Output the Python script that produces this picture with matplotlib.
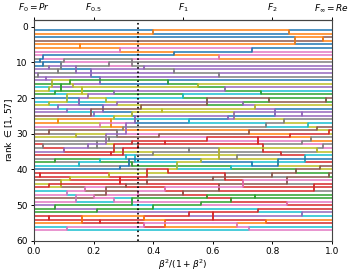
import matplotlib
matplotlib.use("Agg")
import matplotlib.pyplot as plt

# colour (tab10) of each series, listed by its rank at beta^2/(1+beta^2)=0
start_colors = [
    "tab:blue", "tab:orange", "tab:blue", "tab:brown", "tab:orange", "tab:orange", "tab:pink", "tab:pink",
    "tab:gray", "tab:blue", "tab:blue", "tab:purple", "tab:purple", "tab:gray", "tab:purple", "tab:green",
    "tab:cyan", "tab:olive", "tab:green", "tab:blue", "tab:cyan", "tab:olive", "tab:purple", "tab:purple",
    "tab:brown", "tab:olive", "tab:orange", "tab:pink", "tab:gray", "tab:brown", "tab:olive", "tab:gray",
    "tab:red", "tab:gray", "tab:purple", "tab:red", "tab:gray", "tab:green", "tab:cyan", "tab:blue",
    "tab:red", "tab:red", "tab:brown", "tab:olive", "tab:red", "tab:cyan", "tab:pink", "tab:brown",
    "tab:pink", "tab:purple", "tab:green", "tab:green", "tab:red", "tab:red", "tab:orange", "tab:cyan",
    "tab:pink",
]

# rank exchanges: at swap_x the series at rank swap_a and swap_b trade places
swap_x = [0.40, 0.855, 0.875, 0.97, 0.155, 0.29, 0.47, 0.73, 0.62,
          0.02, 0.03, 0.05, 0.08, 0.015, 0.10, 0.25, 0.37, 0.47, 0.62, 0.04, 0.12, 0.22, 0.13, 0.05, 0.07,
          0.16, 0.18, 0.24, 0.27, 0.45, 0.55, 0.64, 0.76, 0.28, 0.36, 0.70, 0.74, 0.79, 0.98, 0.08, 0.11,
          0.05, 0.20, 0.27, 0.33, 0.65, 0.08, 0.22, 0.30, 0.52, 0.78, 0.95,
          0.05, 0.14, 0.25, 0.28, 0.33, 0.42, 0.58, 0.72, 0.86, 0.90, 0.93, 0.03, 0.10, 0.18, 0.26, 0.30,
          0.31, 0.35, 0.40, 0.52, 0.68, 0.77, 0.83, 0.95, 0.07, 0.15, 0.22, 0.29, 0.33, 0.45, 0.56, 0.66,
          0.73, 0.88, 0.96, 0.02, 0.12, 0.25, 0.38, 0.60, 0.80, 0.05, 0.17, 0.31, 0.50, 0.62,
          0.11, 0.20, 0.27, 0.35, 0.74, 0.56, 0.07, 0.21, 0.40, 0.52, 0.75, 0.05, 0.22, 0.37, 0.78, 0.68,
          0.11, 0.37, 0.72,
          0.03, 0.09, 0.14, 0.19, 0.33, 0.06, 0.09, 0.11, 0.15, 0.19, 0.23, 0.26, 0.31, 0.34, 0.43, 0.50,
          0.58, 0.67, 0.81, 0.84, 0.90, 0.92, 0.99, 0.21, 0.24, 0.27, 0.32, 0.34, 0.38, 0.44, 0.48, 0.62,
          0.64, 0.70, 0.75, 0.82, 0.85, 0.91, 0.94, 0.97, 0.99, 0.09, 0.14, 0.24, 0.29, 0.33, 0.44, 0.58,
          0.66, 0.85, 0.90, 0.16, 0.44, 0.60]
swap_a = [1, 1, 3, 3, 5, 6, 7, 6, 8,
          9, 10, 11, 12, 13, 9, 10, 11, 12, 13, 14, 15, 14, 16, 17, 18,
          17, 19, 20, 18, 15, 16, 17, 18, 21, 22, 21, 22, 20, 20, 22, 23,
          21, 24, 25, 24, 25, 26, 27, 28, 26, 27, 28,
          29, 30, 31, 29, 32, 30, 31, 29, 30, 32, 31, 33, 34, 33, 35, 34,
          36, 33, 35, 34, 36, 33, 35, 34, 37, 38, 37, 39, 38, 40, 37, 39,
          38, 40, 39, 41, 42, 41, 43, 42, 41, 44, 45, 44, 46, 44,
          46, 47, 48, 46, 47, 49, 50, 51, 50, 52, 51, 53, 54, 53, 54, 55,
          56, 55, 56,
          8, 10, 11, 12, 9, 15, 16, 19, 20, 23, 22, 26, 27, 25, 23, 19,
          20, 24, 23, 26, 24, 27, 29, 32, 30, 33, 37, 36, 40, 32, 38, 34,
          41, 43, 31, 37, 42, 36, 44, 33, 41, 43, 47, 45, 42, 48, 45, 47,
          48, 49, 52, 53, 54, 52]
swap_b = [2, 2, 5, 4, 6, 7, 8, 7, 9,
          10, 11, 12, 13, 14, 10, 11, 12, 13, 14, 15, 16, 16, 17, 18, 19,
          19, 20, 21, 19, 16, 17, 18, 19, 22, 23, 22, 23, 21, 21, 23, 24,
          22, 25, 26, 25, 26, 27, 28, 29, 27, 28, 29,
          30, 31, 32, 31, 33, 31, 32, 30, 31, 33, 32, 34, 35, 34, 36, 36,
          37, 34, 36, 35, 37, 35, 36, 35, 38, 39, 38, 40, 39, 41, 38, 40,
          39, 41, 40, 42, 43, 42, 44, 43, 42, 45, 46, 45, 47, 46,
          47, 48, 49, 47, 48, 50, 51, 52, 51, 53, 52, 54, 55, 54, 55, 56,
          57, 56, 57,
          9, 12, 13, 14, 11, 17, 18, 21, 22, 25, 24, 28, 30, 27, 24, 20,
          22, 26, 25, 27, 25, 28, 30, 34, 33, 35, 39, 38, 42, 33, 40, 37,
          43, 45, 33, 39, 44, 38, 46, 34, 42, 45, 49, 47, 44, 50, 46, 48,
          49, 50, 53, 55, 56, 54]

top_ticks = [0.0, 0.2, 0.5, 0.8, 1.0]
top_labels = [r"$F_0 = Pr$", r"$F_{0.5}$", r"$F_1$", r"$F_2$", r"$F_\infty = Re$"]
marker_x = 0.35

n = len(start_colors)
order = list(range(n))
paths = [[(0.0, i + 1)] for i in range(n)]
for x, a, b in sorted(zip(swap_x, swap_a, swap_b)):
    sa, sb = order[a - 1], order[b - 1]
    order[a - 1], order[b - 1] = sb, sa
    paths[sa].append((x, b))
    paths[sb].append((x, a))

plt.rcParams["font.size"] = 6.5
fig = plt.figure(figsize=(3.54, 2.76), dpi=100)
ax = fig.add_axes([0.096, 0.127, 0.842, 0.80])

for i in range(n):
    xs = [p[0] for p in paths[i]] + [1.0]
    ys = [p[1] for p in paths[i]] + [paths[i][-1][1]]
    ax.plot(xs, ys, drawstyle="steps-post", color=start_colors[i], lw=1.1)

ax.axvline(marker_x, color="black", ls=":", lw=1.2)
ax.set_xlim(0, 1)
ax.set_ylim(59.8, -1.8)
ax.set_yticks([0, 10, 20, 30, 40, 50, 60])
ax.set_xticks([0.0, 0.2, 0.4, 0.6, 0.8, 1.0])
ax.set_xlabel(r"$\beta^2/(1+\beta^2)$", labelpad=1)
ax.set_ylabel(r"rank $\in [1, 57]$", labelpad=1)
ax.tick_params(length=2.5, width=0.7, pad=2)
for s in ax.spines.values():
    s.set_linewidth(0.8)
    s.set_color("#444444")

sec = ax.secondary_xaxis("top")
sec.set_xticks(top_ticks)
sec.set_xticklabels(top_labels)
sec.tick_params(length=2.5, width=0.7, pad=2)
sec.spines["top"].set_linewidth(0.8)
sec.spines["top"].set_color("#444444")

fig.savefig("out.png", dpi=100)
